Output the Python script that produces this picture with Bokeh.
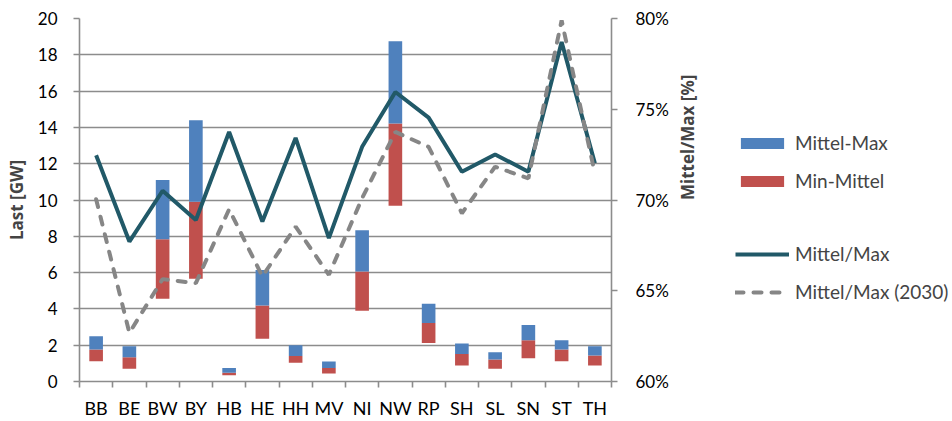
from bokeh.plotting import figure
from bokeh.layouts import row
from bokeh.models import (Range1d, LinearAxis, FixedTicker, PrintfTickFormatter,
                          Legend, LegendItem, ColumnDataSource)
from bokeh.embed import file_html
from bokeh.resources import INLINE
import math

categories = ["BB", "BE", "BW", "BY", "HB", "HE", "HH", "MV",
              "NI", "NW", "RP", "SH", "SL", "SN", "ST", "TH"]
last_min = [1.12, 0.70, 4.56, 5.66, 0.35, 2.36, 1.03, 0.44,
            3.90, 9.69, 2.12, 0.88, 0.70, 1.28, 1.12, 0.88]
last_mittel = [1.76, 1.34, 7.84, 9.91, 0.48, 4.19, 1.41, 0.75,
               6.06, 14.21, 3.22, 1.52, 1.21, 2.27, 1.76, 1.43]
last_max = [2.49, 1.94, 11.10, 14.40, 0.75, 6.15, 2.00, 1.10,
            8.33, 18.75, 4.29, 2.09, 1.61, 3.11, 2.27, 1.94]
mittel_max_pct = [72.47, 67.71, 70.51, 68.90, 73.75, 68.81, 73.42, 67.90,
                  72.93, 75.95, 74.54, 71.56, 72.51, 71.56, 78.70, 72.02]
mittel_max_2030_pct = [70.04, 62.68, 65.64, 65.42, 69.49, 65.79, 68.53, 65.88,
                       70.10, 73.75, 72.93, 69.27, 71.83, 71.19, 79.89, 71.47]
left_ticks = [0, 2, 4, 6, 8, 10, 12, 14, 16, 18, 20]
right_ticks = [60, 65, 70, 75, 80]

FONT = "Lato"
BOLD_FONT = "Open Sans"
GRAY = "#8c8c8c"
BLUE = "#4F81BD"
RED = "#C0504D"
TEAL = "#215968"
DGRAY = "#868686"
NAN = float("nan")

xpos = [i + 0.5 for i in range(len(categories))]
src = ColumnDataSource(dict(x=xpos, cat=categories, mn=last_min, mi=last_mittel, mx=last_max,
                            r=mittel_max_pct, r30=mittel_max_2030_pct))

W1 = 715
p = figure(width=W1, height=421, x_range=Range1d(0, len(categories)), y_range=Range1d(0, 20),
           output_backend="svg", toolbar_location=None,
           min_border_left=79, min_border_right=W1 - 611, min_border_top=18, min_border_bottom=39)
p.extra_y_ranges = {"pct": Range1d(60, 80)}
p.outline_line_color = None
p.xgrid.grid_line_color = None
p.ygrid.ticker = FixedTicker(ticks=left_ticks)
p.ygrid.grid_line_color = GRAY
p.ygrid.grid_line_width = 1.6

p.vbar(x="x", bottom="mn", top="mi", width=0.41, source=src, fill_color=RED, line_color=None)
p.vbar(x="x", bottom="mi", top="mx", width=0.41, source=src, fill_color=BLUE, line_color=None)
p.line(x="x", y="r", source=src, y_range_name="pct", line_color=TEAL, line_width=4)
p.line(x="x", y="r30", source=src, y_range_name="pct", line_color=DGRAY, line_width=4,
       line_dash="8 10", line_cap="round")

# left axis
ya = p.yaxis[0]
ya.ticker = FixedTicker(ticks=left_ticks)
ya.axis_label = "Last [GW]"
ya.axis_label_text_font = BOLD_FONT
ya.axis_label_text_font_style = "bold"
ya.axis_label_text_font_size = "17px"
ya.axis_label_standoff = 7
ya.major_label_text_font = FONT
ya.major_label_text_font_size = "17px"
ya.major_label_text_color = "black"
ya.major_label_standoff = 16
ya.axis_line_color = GRAY
ya.axis_line_width = 1.6
ya.major_tick_line_color = GRAY
ya.major_tick_line_width = 1.6
ya.major_tick_in = 0
ya.major_tick_out = 6
ya.minor_tick_line_color = None

# bottom axis
xa = p.xaxis[0]
xa.ticker = FixedTicker(ticks=xpos, minor_ticks=list(range(len(categories) + 1)))
xa.major_label_overrides = {x: c for x, c in zip(xpos, categories)}
xa.major_label_text_font = FONT
xa.major_label_text_font_size = "18px"
xa.major_label_text_color = "black"
xa.major_label_standoff = 9
xa.axis_line_color = GRAY
xa.axis_line_width = 1.6
xa.major_tick_line_color = None
xa.minor_tick_line_color = GRAY
xa.minor_tick_line_width = 1.6
xa.minor_tick_in = 0
xa.minor_tick_out = 6

# right axis
ra = LinearAxis(y_range_name="pct", ticker=FixedTicker(ticks=right_ticks),
                formatter=PrintfTickFormatter(format="%d%%"))
ra.axis_label = "Mittel/Max [%]"
ra.axis_label_orientation = math.pi / 2
ra.axis_label_text_font = BOLD_FONT
ra.axis_label_text_font_style = "bold"
ra.axis_label_text_font_size = "17px"
ra.axis_label_standoff = 16
ra.major_label_text_font = FONT
ra.major_label_text_font_size = "17px"
ra.major_label_text_color = "black"
ra.major_label_standoff = 18
ra.axis_line_color = GRAY
ra.axis_line_width = 1.6
ra.major_tick_line_color = GRAY
ra.major_tick_line_width = 1.6
ra.major_tick_in = 0
ra.major_tick_out = 6
ra.minor_tick_line_color = None
p.add_layout(ra, "right")

# legend panel (legend-only renderers hold no visible data)
W2 = 952 - W1
q = figure(width=W2, height=421, x_range=Range1d(0, 1), y_range=Range1d(0, 1),
           output_backend="svg", toolbar_location=None,
           x_axis_location=None, y_axis_location=None,
           min_border_left=0, min_border_right=0, min_border_top=0, min_border_bottom=0)
q.outline_line_color = None
q.grid.grid_line_color = None
lb = q.vbar(x=[NAN], top=[NAN], width=0.4, fill_color=BLUE, line_color=None)
lr = q.vbar(x=[NAN], top=[NAN], width=0.4, fill_color=RED, line_color=None)
ls = q.line(x=[NAN], y=[NAN], line_alpha=0)
lt = q.line(x=[NAN], y=[NAN], line_color=TEAL, line_width=4)
ld = q.line(x=[NAN], y=[NAN], line_color=DGRAY, line_width=4, line_dash="8 10", line_cap="round")

legend = Legend(items=[LegendItem(label="Mittel-Max", renderers=[lb]),
                       LegendItem(label="Min-Mittel", renderers=[lr]),
                       LegendItem(label=" ", renderers=[ls]),
                       LegendItem(label="Mittel/Max", renderers=[lt]),
                       LegendItem(label="Mittel/Max (2030)", renderers=[ld])],
                location=(735 - W1, 78), orientation="vertical",
                glyph_width=54, glyph_height=14, label_height=20,
                label_standoff=6, spacing=15, padding=0, margin=0,
                border_line_color=None, background_fill_alpha=0,
                label_text_font=FONT, label_text_font_size="19px")
q.add_layout(legend, "center")

open("out.html", "w").write(file_html(row(p, q), INLINE))
